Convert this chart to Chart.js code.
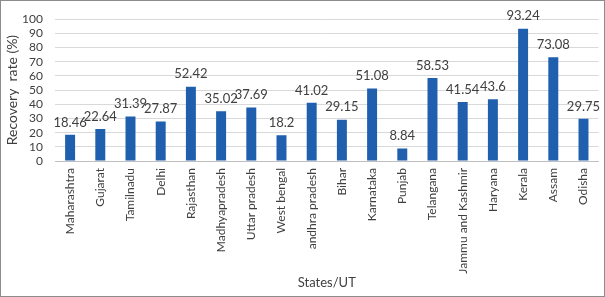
<!DOCTYPE html>
<html><head><meta charset="utf-8">
<script src="https://cdn.jsdelivr.net/npm/chart.js@4"></script>
<style>html,body{margin:0;padding:0;background:#fff}#wrap{width:605px;height:297px;position:relative}</style>
</head><body><div id="wrap"><canvas id="c" width="605" height="297"></canvas></div>
<script>
const categories = ["Maharashtra","Gujarat","Tamilnadu","Delhi","Rajasthan","Madhyapradesh","Uttar pradesh","West bengal","andhra pradesh","Bihar","Karnataka","Punjab","Telangana","Jammu and Kashmir","Haryana","Kerala","Assam","Odisha"];
const recoveryRate = [18.46,22.64,31.39,27.87,52.42,35.02,37.69,18.2,41.02,29.15,51.08,8.84,58.53,41.54,43.6,93.24,73.08,29.75];
const yTicks = [0,10,20,30,40,50,60,70,80,90,100];

const FONT = "Lato, 'Open Sans', sans-serif";

const labelPlugin = {
  id: 'valueLabels',
  afterDatasetsDraw(chart) {
    const ctx = chart.ctx;
    const meta = chart.getDatasetMeta(0);
    ctx.save();
    ctx.font = "13px " + FONT;
    ctx.fillStyle = "#404040";
    ctx.textAlign = "center";
    ctx.textBaseline = "bottom";
    meta.data.forEach((bar, i) => {
      ctx.fillText(String(chart.data.datasets[0].data[i]), bar.x, bar.y - 6);
    });
    ctx.restore();
  }
};
const borderPlugin = {
  id: 'outerBorder',
  afterDraw(chart) {
    const ctx = chart.ctx;
    ctx.save();
    ctx.strokeStyle = "#8c8c8c";
    ctx.lineWidth = 1;
    ctx.strokeRect(0.5, 0.5, chart.width - 1, chart.height - 1);
    ctx.restore();
  }
};

new Chart(document.getElementById('c'), {
  type: 'bar',
  data: {
    labels: categories,
    datasets: [{
      data: recoveryRate,
      backgroundColor: '#1f5fae',
      categoryPercentage: 1,
      barPercentage: 0.33
    }]
  },
  options: {
    responsive: false,
    animation: false,
    layout: { padding: { top: 6, right: 4, left: 0, bottom: 0 } },
    plugins: { legend: { display: false }, tooltip: { enabled: false } },
    scales: {
      x: {
        grid: { display: false, drawTicks: false },
        border: { color: '#bfbfbf' },
        ticks: { minRotation: 90, maxRotation: 90, autoSkip: false, color: '#404040', font: { size: 12, family: FONT }, padding: 7 },
        title: { display: true, text: 'States/UT', color: '#404040', font: { size: 13, family: FONT }, padding: { top: 6, bottom: 6 } },
        afterFit(s) { s.height = 136; }
      },
      y: {
        min: 0, max: 100,
        afterBuildTicks(s) { s.ticks = yTicks.map(v => ({ value: v })); },
        grid: { color: '#d9d9d9', drawTicks: false },
        border: { display: false },
        ticks: { autoSkip: false, stepSize: 10, color: '#404040', font: { size: 12, family: FONT }, padding: 12 },
        title: { display: true, text: 'Recovery  rate (%)', color: '#404040', font: { size: 14, family: FONT }, padding: { top: 4, bottom: 0 } },
        afterFit(s) { s.width = 55; }
      }
    }
  },
  plugins: [labelPlugin, borderPlugin]
});
</script></body></html>
